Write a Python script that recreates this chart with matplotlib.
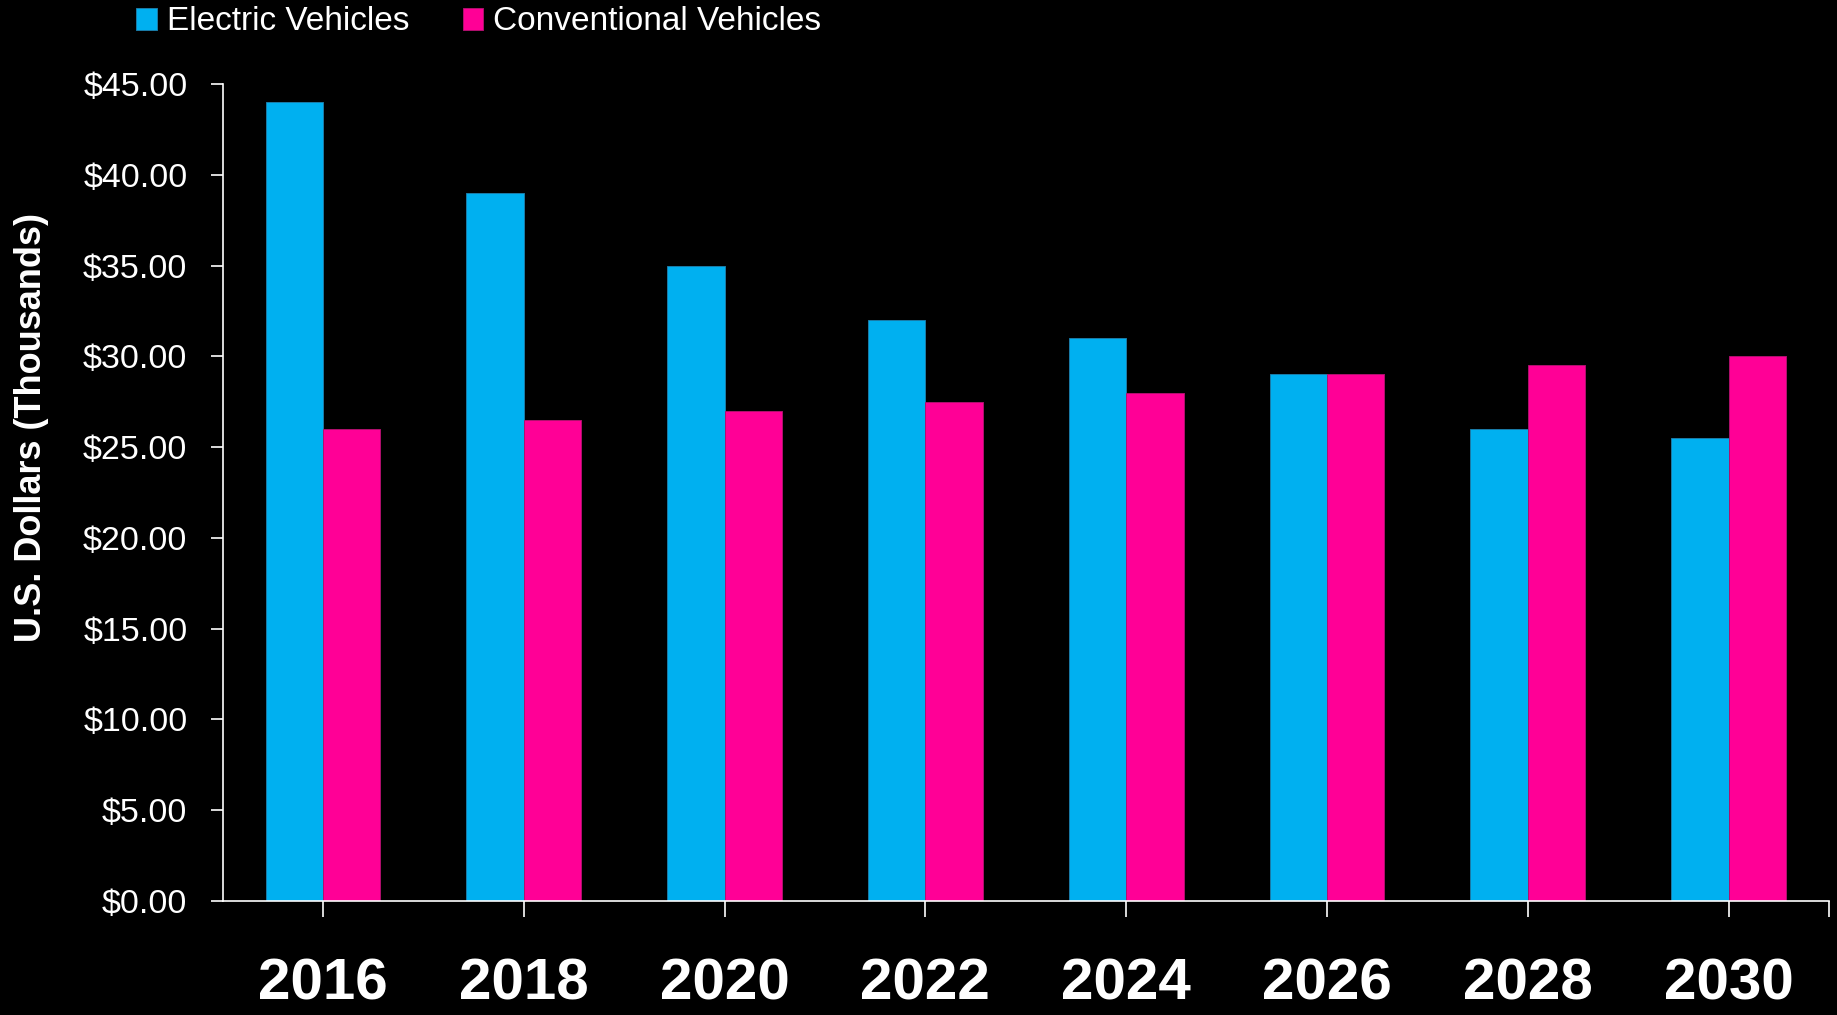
import matplotlib.pyplot as plt
import numpy as np

# 车辆价格数据（千美元）
years = ['2016', '2018', '2020', '2022', '2024', '2026', '2028', '2030']
electric = [44.0, 39.0, 35.0, 32.0, 31.0, 29.0, 26.0, 25.5]
conventional = [26.0, 26.5, 27.0, 27.5, 28.0, 29.0, 29.5, 30.0]
series_names = ['Electric Vehicles', 'Conventional Vehicles']
y_ticks = np.arange(0, 50, 5)

plt.rcParams['font.family'] = ['Liberation Sans', 'DejaVu Sans']

fig = plt.figure(figsize=(18.37, 10.15), dpi=100, facecolor='black')
ax = fig.add_axes([222.6 / 1837, 114 / 1015, (1829 - 222.6) / 1837, (901 - 84) / 1015])
ax.set_facecolor('black')

x = np.arange(len(years))
w = 0.286
ax.bar(x - w / 2, electric, w, color='#00B0F0', edgecolor='#1A7CA8', linewidth=0.7,
       label=series_names[0])
ax.bar(x + w / 2, conventional, w, color='#FF0096', edgecolor='#B0106E', linewidth=0.7,
       label=series_names[1])

ax.set_xlim(-0.5, 7.5)
ax.set_ylim(0, 45)
ax.set_yticks(y_ticks)
ax.set_yticklabels(['${:.2f}'.format(v) for v in y_ticks])
ax.set_xticks(x)
ax.set_xticklabels(years)
ax.set_xticks([7.5], minor=True)

for s in ['top', 'right']:
    ax.spines[s].set_visible(False)
for s in ['left', 'bottom']:
    ax.spines[s].set_color('white')
    ax.spines[s].set_linewidth(1.2)

ax.tick_params(axis='y', colors='white', labelsize=24.5, length=8.3, width=1.2, pad=17)
ax.tick_params(axis='x', which='both', colors='white', length=11.5, width=1.2)
ax.tick_params(axis='x', which='major', labelsize=42, pad=29)
for lbl in ax.get_xticklabels():
    lbl.set_fontweight('bold')

fig.text(32 / 1837, 1 - 428 / 1015, 'U.S. Dollars (Thousands)', rotation=90,
         ha='center', va='center', color='white', fontsize=26, fontweight='bold')

leg = fig.legend(loc='center left', bbox_to_anchor=(136 / 1837, 1 - 22 / 1015),
                 ncol=2, frameon=False, fontsize=24, handlelength=0.62, handleheight=0.62,
                 handletextpad=0.3, columnspacing=1.6, borderpad=0, borderaxespad=0)
for t in leg.get_texts():
    t.set_color('white')

fig.savefig('out.png', dpi=100, facecolor='black')
